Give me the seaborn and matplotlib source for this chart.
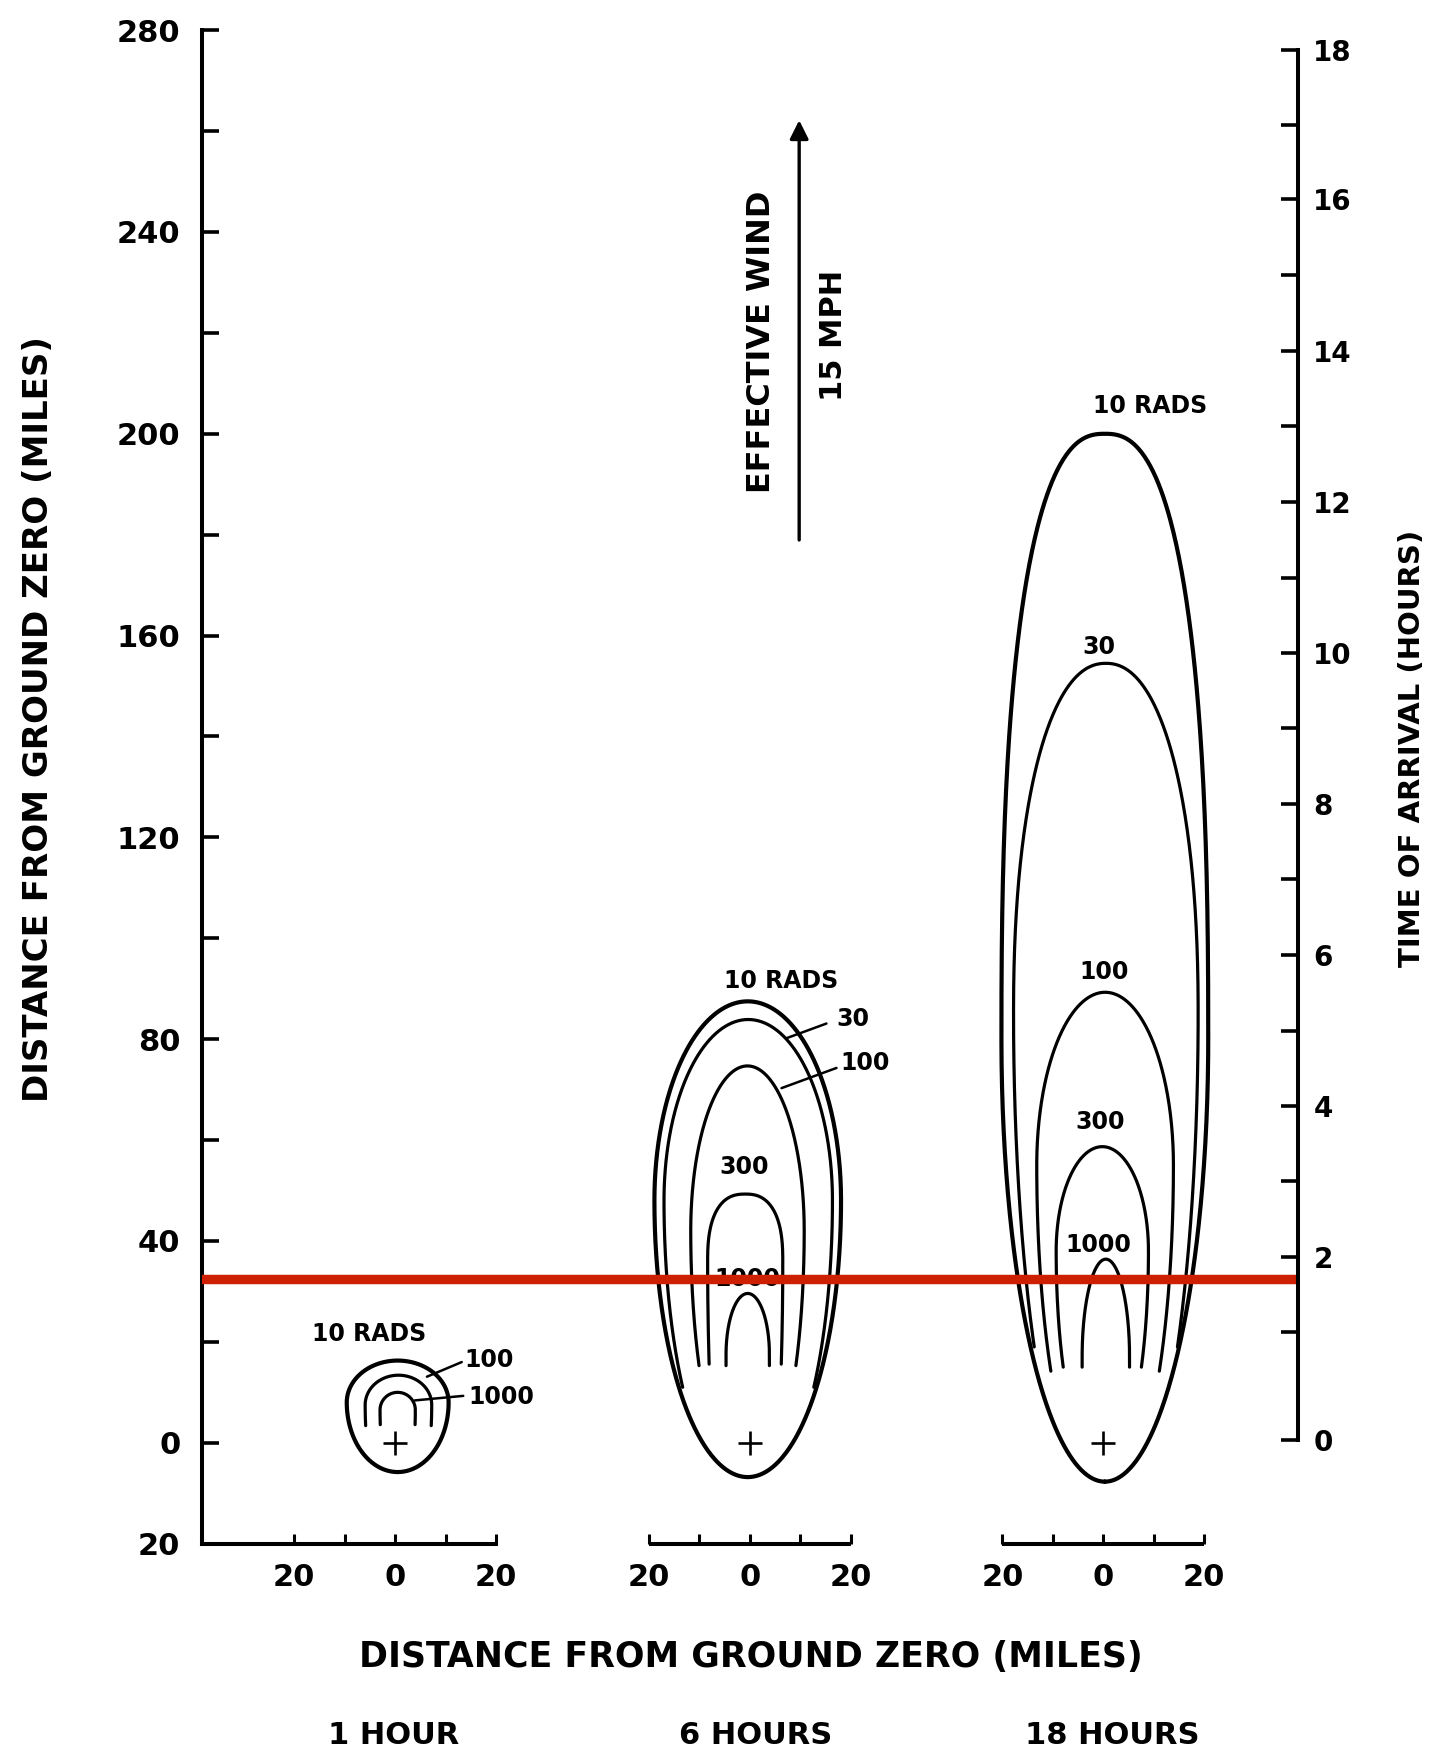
import numpy as np
import pandas as pd
import matplotlib
matplotlib.use("Agg")
import matplotlib.pyplot as plt
import seaborn as sns

# fallout pattern panels
panel_titles = ["1 HOUR", "6 HOURS", "18 HOURS"]

# dose contours (rads) in each panel
levels_1h = [10, 100, 1000]
levels_6h = [10, 30, 100, 300, 1000]
levels_18h = [10, 30, 100, 300, 1000]

# downwind extent of each contour (miles)
top_1h = [16.3, 13.4, 10.0]
top_6h = [87.5, 83.9, 74.7, 49.3, 29.6]
top_18h = [200.0, 154.5, 89.3, 58.7, 36.4]

# maximum crosswind half-width (miles) and the distance where it is reached
width_1h = [10.1, 6.6, 3.5]
width_6h = [18.5, 16.7, 11.25, 7.45, 4.3]
width_18h = [20.5, 18.3, 13.55, 9.15, 4.7]
widest_at_1h = [8.0, 7.5, 6.5]
widest_at_6h = [48.0, 48.0, 42.0, 36.0, 17.5]
widest_at_18h = [80.0, 85.0, 55.0, 38.0, 17.0]

# upwind end: the 10 rad contour is closed, the others stop at open legs
end_1h = [-5.8, 3.4, 3.6]
end_6h = [-6.8, 11.0, 15.3, 15.6, 15.3]
end_18h = [-7.7, 19.0, 14.2, 15.0, 15.0]
end_width_1h = [0.0, 6.5, 3.45]
end_width_6h = [0.0, 13.0, 9.6, 7.15, 4.3]
end_width_18h = [0.0, 14.2, 10.75, 7.75, 4.7]

# crosswind shift of each contour (miles)
shift_1h = [0.5, 0.65, 0.5]
shift_6h = [-0.4, -0.3, -0.45, -0.9, -0.4]
shift_18h = [0.3, 0.5, 0.35, -0.2, 0.5]

ground_zero = [0, 0, 0]

# right axis: time of arrival (hours) against downwind distance (miles)
arrival_hours = list(range(19))
arrival_miles = [0.5, 22.0, 36.8, 51.8, 66.8, 81.7, 96.7, 111.7, 126.7, 141.6,
                 156.6, 171.5, 186.5, 201.5, 216.5, 231.5, 246.5, 261.3, 276.0]

wind_label = ["EFFECTIVE WIND", "15 MPH"]
marked_distance = 32.4

# ---- layout -------------------------------------------------------------
panel_center = [38.2, 108.5, 178.6]
top_shape = {0: [2.0, 2.0, 2.0], 1: [2.0, 2.0, 2.0, 2.5, 2.0], 2: [2.5, 2.2, 2.0, 2.0, 2.0]}

label_dx = [[-5.1, 18.6, 21.1],
            [6.2, 20.4, 22.9, -1.1, -0.4],
            [9.3, -0.9, 0.2, -0.7, -0.9]]
label_y = [[21.5, 16.4, 9.1],
           [91.6, 84.1, 75.2, 54.6, 32.4],
           [205.5, 157.8, 93.4, 63.5, 39.3]]
leaders = [(0, 13.2, 16.0, 6.3, 13.1), (0, 13.5, 9.3, 3.9, 8.4),
           (1, 15.2, 83.1, 7.3, 80.2), (1, 17.2, 74.3, 6.3, 70.3)]


def outline(top, a, ymid, end, end_w, closed, n=2.0, k=160):
    phi = np.linspace(0, np.pi / 2, k)
    ux = a * np.cos(phi) ** (2 / n)
    uy = ymid + (top - ymid) * np.sin(phi) ** (2 / n)
    if closed:
        lx = a * np.cos(phi)
        ly = ymid - (ymid - end) * np.sin(phi)
    else:
        ly = np.linspace(ymid, end, k)
        if end_w < a:
            b = (ymid - end) / np.sqrt(1 - (end_w / a) ** 2)
            lx = a * np.sqrt(np.clip(1 - ((ymid - ly) / b) ** 2, 0, 1))
        else:
            lx = np.full(k, a)
    rx = np.concatenate([lx[::-1], ux[1:]])
    ry = np.concatenate([ly[::-1], uy[1:]])
    x = np.concatenate([rx, -rx[::-1][1:]])
    y = np.concatenate([ry, ry[::-1][1:]])
    return x, y


sns.set_theme(style="white")
plt.rcParams["font.family"] = ["DejaVu Sans"]
plt.rcParams["font.weight"] = "bold"
plt.rcParams["text.color"] = "black"
plt.rcParams["axes.labelcolor"] = "black"

fig = plt.figure(figsize=(14.3, 17.54), dpi=100)
ax = fig.add_axes([0.1416, 0.1199, 0.7661, 0.8629])
ax.set_xlim(0, 217.2)
ax.set_ylim(-20, 280)

panels = [
    (levels_1h, top_1h, width_1h, widest_at_1h, end_1h, end_width_1h, shift_1h),
    (levels_6h, top_6h, width_6h, widest_at_6h, end_6h, end_width_6h, shift_6h),
    (levels_18h, top_18h, width_18h, widest_at_18h, end_18h, end_width_18h, shift_18h),
]

for p, (levels, tops, widths, widest, ends, end_ws, shifts) in enumerate(panels):
    c = panel_center[p]
    for i, lev in enumerate(levels):
        closed = i == 0
        x, y = outline(tops[i], widths[i], widest[i], ends[i], end_ws[i], closed,
                       n=top_shape[p][i])
        df = pd.DataFrame({"x": c + shifts[i] + x, "y": y})
        sns.lineplot(data=df, x="x", y="y", sort=False, estimator=None,
                     color="black", lw=3.0 if closed else 2.3, ax=ax, legend=False)
        txt = f"{lev} RADS" if closed else str(lev)
        ax.text(c + label_dx[p][i], label_y[p][i], txt, ha="center", va="center",
                fontsize=17, color="black", zorder=3)

for p, x0, y0, x1, y1 in leaders:
    c = panel_center[p]
    ax.plot([c + x0, c + x1], [y0, y1], color="black", lw=1.8)

sns.scatterplot(x=panel_center, y=ground_zero, marker="+", s=320, color="black",
                linewidth=1.9, ax=ax, legend=False, zorder=4)

# wind arrow
ax.annotate("", xy=(118.3, 262.7), xytext=(118.3, 178.4),
            arrowprops=dict(arrowstyle="-|>", lw=2.4, color="black", mutation_scale=28))
ax.text(110.8, 218.3, wind_label[0], rotation=90, ha="center", va="center",
        fontsize=23, color="black")
ax.text(125.1, 219.4, wind_label[1], rotation=90, ha="center", va="center",
        fontsize=22, color="black")

# red marker line
ax.axhline(marked_distance, color="#cc2000", lw=6.8, zorder=6)

# left axis
for side in ["top", "right"]:
    ax.spines[side].set_visible(False)
ax.spines["left"].set_linewidth(2.9)
ax.spines["bottom"].set_linewidth(2.9)
ax.spines["left"].set_color("black")
ax.spines["bottom"].set_color("black")
ax.spines["bottom"].set_bounds(0, panel_center[0] + 20)
yt = list(range(-20, 281, 20))
ax.set_yticks(yt)
ax.set_yticklabels(["20" if v == -20 else (str(v) if v % 40 == 0 else "") for v in yt])
ax.tick_params(axis="y", direction="in", length=12, width=2.6, pad=16, labelsize=22,
               left=True, colors="black")

# bottom axis segments
xt, xl = [], []
for c in panel_center:
    for d in [-20, -10, 0, 10, 20]:
        xt.append(c + d)
        xl.append(str(abs(d)) if d % 20 == 0 else "")
ax.set_xticks(xt)
ax.set_xticklabels(xl)
ax.tick_params(axis="x", direction="in", length=7, width=2.2, pad=14, labelsize=22,
               bottom=True, colors="black")
for c in panel_center[1:]:
    ax.plot([c - 20, c + 20], [-20, -20], color="black", lw=2.9, clip_on=False,
            solid_capstyle="butt")

# right axis
ax2 = ax.twinx()
ax2.set_ylim(-20, 280)
ax2.set_yticks(arrival_miles)
ax2.set_yticklabels([str(h) if h % 2 == 0 else "" for h in arrival_hours])
for side in ["top", "left", "bottom"]:
    ax2.spines[side].set_visible(False)
ax2.spines["right"].set_bounds(arrival_miles[0], arrival_miles[-1])
ax2.spines["right"].set_linewidth(2.9)
ax2.spines["right"].set_color("black")
ax2.tick_params(axis="y", direction="in", length=12, width=2.6, pad=11, labelsize=20,
                right=True, colors="black")
ax2.grid(False)
ax.grid(False)

# titles
ax.text(-0.150, 0.545, "DISTANCE FROM GROUND ZERO (MILES)", transform=ax.transAxes,
        rotation=90, ha="center", va="center", fontsize=24.5, color="black")
ax.text(1.104, 0.5255, "TIME OF ARRIVAL (HOURS)", transform=ax.transAxes,
        rotation=90, ha="center", va="center", fontsize=21, color="black")
ax.text(0.5005, -0.0746, "DISTANCE FROM GROUND ZERO (MILES)", transform=ax.transAxes,
        ha="center", va="center", fontsize=25, color="black")
for xpos, title in zip([0.1747, 0.5046, 0.8304], panel_titles):
    ax.text(xpos, -0.1264, title, transform=ax.transAxes, ha="center", va="center",
            fontsize=22, color="black")

ax.set_xlabel("")
ax.set_ylabel("")
ax2.set_ylabel("")

fig.savefig("out.png", dpi=100, facecolor="white")
